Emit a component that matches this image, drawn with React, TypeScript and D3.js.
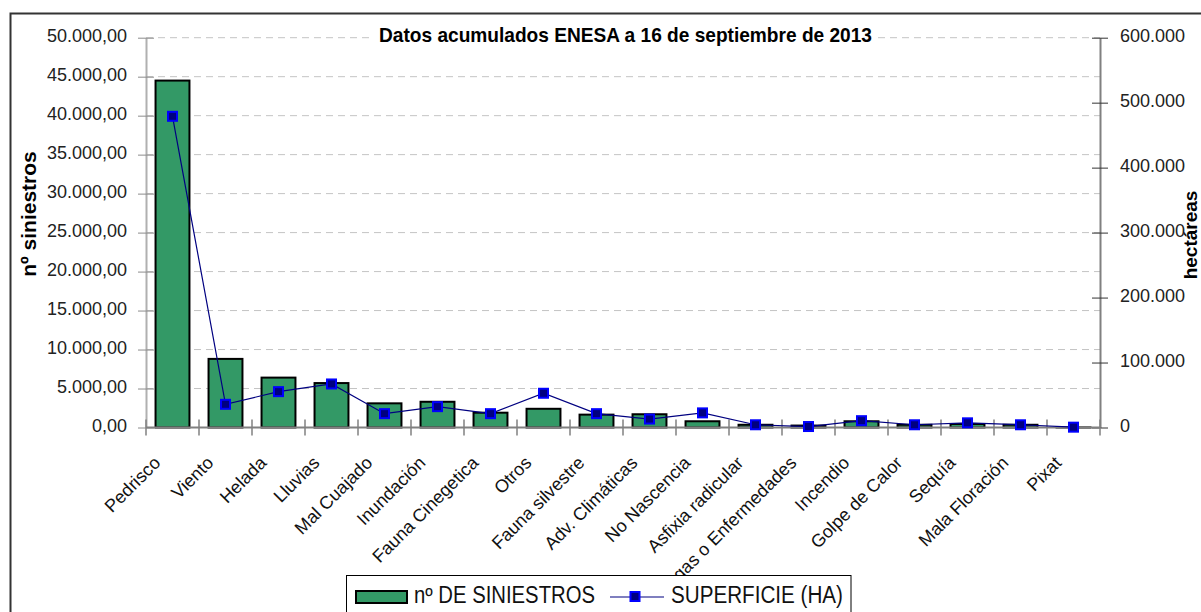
import React, { useEffect, useRef } from "react";
import * as d3 from "d3";

const categories = [
  "Pedrisco",
  "Viento",
  "Helada",
  "Lluvias",
  "Mal Cuajado",
  "Inundación",
  "Fauna Cinegetica",
  "Otros",
  "Fauna silvestre",
  "Adv. Climáticas",
  "No Nascencia",
  "Asfixia radicular",
  "Plagas o Enfermedades",
  "Incendio",
  "Golpe de Calor",
  "Sequía",
  "Mala Floración",
  "Pixat",
];

// nº de siniestros (left axis)
const siniestros = [
  44500, 8800, 6400, 5700, 3100, 3300, 1900, 2400, 1650, 1700, 800, 350, 250,
  800, 350, 450, 350, 10,
];

// superficie en hectáreas (right axis)
const superficie = [
  479000, 35700, 55200, 67000, 21300, 32100, 21300, 52700, 21300, 13000, 22500,
  4200, 1500, 10500, 4200, 7200, 4200, 500,
];

const leftTicks = [0, 5000, 10000, 15000, 20000, 25000, 30000, 35000, 40000, 45000, 50000];
const rightTicks = [0, 100000, 200000, 300000, 400000, 500000, 600000];

const title = "Datos acumulados ENESA a 16 de septiembre de 2013";
const leftTitle = "nº siniestros";
const rightTitle = "hectáreas";
const legendBars = "nº DE SINIESTROS";
const legendLine = "SUPERFICIE (HA)";

const W = 1201;
const H = 612;

const App = () => {
  const svgRef = useRef<SVGSVGElement>(null);

  useEffect(() => {
    const font = '"Liberation Sans", Arial, sans-serif';
    const m = { left: 146, right: 1100, top: 37.7, bottom: 427.5 };

    const x = d3
      .scaleBand<string>()
      .domain(categories)
      .range([m.left, m.right])
      .paddingInner(0.36)
      .paddingOuter(0.18);
    const yL = d3.scaleLinear([0, 50000], [m.bottom, m.top]);
    const yR = d3.scaleLinear([0, 600000], [m.bottom, m.top]);

    const es = d3.formatLocale({
      decimal: ",",
      thousands: ".",
      grouping: [3],
      currency: ["", ""],
    });
    const fmtL = es.format(",.2f");
    const fmtR = es.format(",.0f");

    const svg = d3.select(svgRef.current);
    svg.selectAll("*").remove();

    svg.append("rect").attr("width", W).attr("height", H).attr("fill", "#fff");

    // gridlines
    svg
      .append("g")
      .selectAll("line")
      .data(leftTicks.filter((d) => d > 0))
      .join("line")
      .attr("x1", m.left)
      .attr("x2", m.right)
      .attr("y1", (d) => yL(d))
      .attr("y2", (d) => yL(d))
      .attr("stroke", "#c4c4c4")
      .attr("stroke-dasharray", "7 5");

    // bars
    svg
      .append("g")
      .selectAll("rect")
      .data(categories)
      .join("rect")
      .attr("x", (d) => x(d)!)
      .attr("width", x.bandwidth())
      .attr("y", (_, i) => yL(siniestros[i]))
      .attr("height", (_, i) => yL(0) - yL(siniestros[i]))
      .attr("fill", "#339966")
      .attr("stroke", "#000")
      .attr("stroke-width", 2);

    // left axis
    const gL = svg
      .append("g")
      .attr("transform", `translate(${m.left},0)`)
      .call(
        d3
          .axisLeft(yL)
          .tickValues(leftTicks)
          .tickFormat((d) => fmtL(d as number))
          .tickSize(8)
          .tickSizeOuter(0)
          .tickPadding(11)
      );
    gL.select(".domain").attr("stroke", "#b0b0b0").attr("stroke-width", 2);
    gL.selectAll(".tick line").attr("x1", 8).attr("stroke", "#8c8c8c");
    gL.selectAll(".tick text")
      .attr("font-family", font)
      .attr("font-size", 18)
      .attr("fill", "#222")
      .attr("dy", 4);

    // right axis
    const gR = svg
      .append("g")
      .attr("transform", `translate(${m.right},0)`)
      .call(
        d3
          .axisRight(yR)
          .tickValues(rightTicks)
          .tickFormat((d) => fmtR(d as number))
          .tickSize(8)
          .tickSizeOuter(0)
          .tickPadding(12)
      );
    gR.select(".domain").attr("stroke", "#808080").attr("stroke-width", 2);
    gR.selectAll(".tick line").attr("x1", -8).attr("stroke", "#333");
    gR.selectAll(".tick text")
      .attr("font-family", font)
      .attr("font-size", 18)
      .attr("fill", "#222")
      .attr("dy", 4);

    // category axis
    const bounds = categories
      .map((d) => x(d)! - (x.step() * x.paddingInner()) / 2)
      .concat([m.right]);
    svg
      .append("line")
      .attr("x1", m.left)
      .attr("x2", m.right)
      .attr("y1", m.bottom)
      .attr("y2", m.bottom)
      .attr("stroke", "#808080")
      .attr("stroke-width", 2);
    svg
      .append("g")
      .selectAll("line")
      .data(bounds)
      .join("line")
      .attr("x1", (d) => d)
      .attr("x2", (d) => d)
      .attr("y1", m.bottom - 8)
      .attr("y2", m.bottom + 8)
      .attr("stroke", "#808080")
      .attr("stroke-width", 1.5);

    svg
      .append("g")
      .selectAll("text")
      .data(categories)
      .join("text")
      .attr("transform", (d) => {
        const cx = x(d)! + x.bandwidth() / 2 - 11;
        return `translate(${cx},464) rotate(-45)`;
      })
      .attr("text-anchor", "end")
      .attr("font-family", font)
      .attr("font-size", 18)
      .attr("fill", "#111")
      .text((d) => d);

    // superficie line + markers
    const line = d3
      .line<number>()
      .x((_, i) => x(categories[i])! + x.bandwidth() / 2)
      .y((d) => yR(d));
    svg
      .append("path")
      .attr("d", line(superficie)!)
      .attr("fill", "none")
      .attr("stroke", "#000080")
      .attr("stroke-width", 1.2);
    svg
      .append("g")
      .selectAll("rect")
      .data(superficie)
      .join("rect")
      .attr("x", (_, i) => x(categories[i])! + x.bandwidth() / 2 - 4.5)
      .attr("y", (d) => yR(d) - 4.5)
      .attr("width", 9)
      .attr("height", 9)
      .attr("fill", "#000080")
      .attr("stroke", "#0000ff")
      .attr("stroke-width", 2);

    // title
    svg
      .append("rect")
      .attr("x", 374)
      .attr("y", 24)
      .attr("width", 503)
      .attr("height", 22)
      .attr("fill", "#fff");
    svg
      .append("text")
      .attr("x", 625.5)
      .attr("y", 42)
      .attr("text-anchor", "middle")
      .attr("font-family", font)
      .attr("font-weight", "bold")
      .attr("font-size", 21)
      .attr("textLength", 493)
      .attr("lengthAdjust", "spacingAndGlyphs")
      .attr("fill", "#000")
      .text(title);

    // axis titles
    svg
      .append("text")
      .attr("transform", "translate(36,214) rotate(-90)")
      .attr("text-anchor", "middle")
      .attr("font-family", font)
      .attr("font-weight", "bold")
      .attr("font-size", 21)
      .attr("fill", "#000")
      .text(leftTitle);
    svg
      .append("text")
      .attr("transform", "translate(1197,235) rotate(-90)")
      .attr("text-anchor", "middle")
      .attr("font-family", font)
      .attr("font-weight", "bold")
      .attr("font-size", 19)
      .attr("fill", "#000")
      .text(rightTitle);

    // legend
    const lg = svg.append("g");
    lg.append("rect")
      .attr("x", 346.5)
      .attr("y", 575.5)
      .attr("width", 504.5)
      .attr("height", 60)
      .attr("fill", "#fff")
      .attr("stroke", "#000");
    lg.append("rect")
      .attr("x", 356)
      .attr("y", 591)
      .attr("width", 51)
      .attr("height", 12)
      .attr("fill", "#339966")
      .attr("stroke", "#000")
      .attr("stroke-width", 2);
    lg.append("text")
      .attr("x", 414)
      .attr("y", 603)
      .attr("font-family", font)
      .attr("font-size", 23)
      .attr("textLength", 181)
      .attr("lengthAdjust", "spacingAndGlyphs")
      .attr("fill", "#111")
      .text(legendBars);
    lg.append("line")
      .attr("x1", 610)
      .attr("x2", 664)
      .attr("y1", 597)
      .attr("y2", 597)
      .attr("stroke", "#000080")
      .attr("stroke-width", 1.2);
    lg.append("rect")
      .attr("x", 630.5)
      .attr("y", 592)
      .attr("width", 9)
      .attr("height", 9)
      .attr("fill", "#000080")
      .attr("stroke", "#0000ff")
      .attr("stroke-width", 2);
    lg.append("text")
      .attr("x", 671)
      .attr("y", 602.5)
      .attr("font-family", font)
      .attr("font-size", 23)
      .attr("textLength", 172)
      .attr("lengthAdjust", "spacingAndGlyphs")
      .attr("fill", "#111")
      .text(legendLine);

    // outer border
    svg
      .append("rect")
      .attr("x", 10.5)
      .attr("y", 13.5)
      .attr("width", 1250)
      .attr("height", 700)
      .attr("fill", "none")
      .attr("stroke", "#333")
      .attr("stroke-width", 2);
  }, []);

  return (
    <svg
      ref={svgRef}
      width={W}
      height={H}
      style={{ position: "absolute", left: 0, top: 0, display: "block" }}
    />
  );
};

export default App;
